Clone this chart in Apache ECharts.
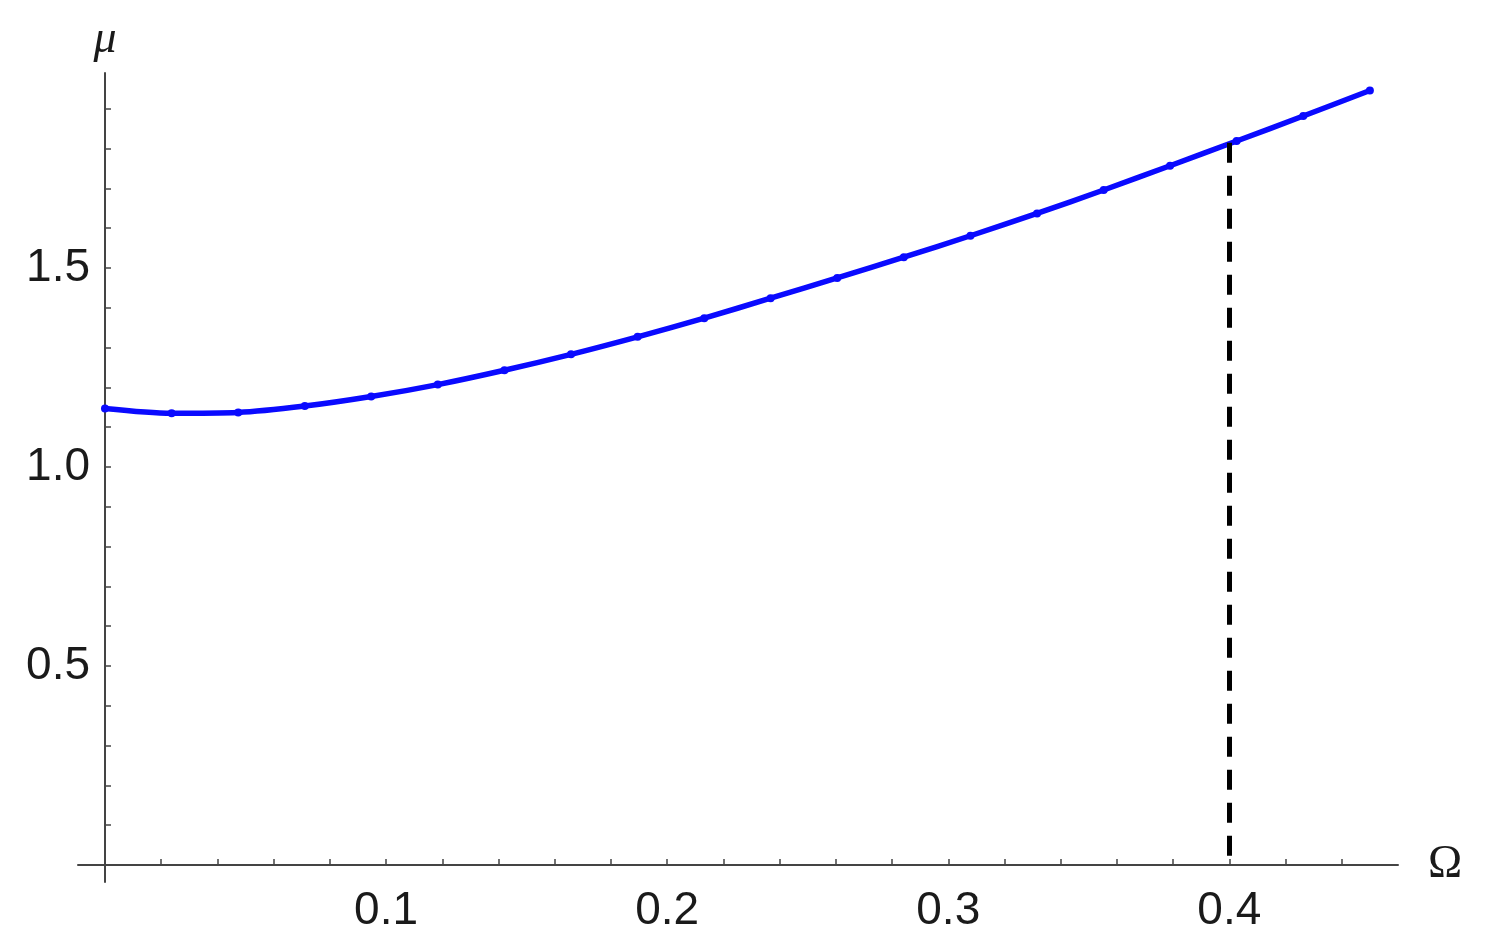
<!DOCTYPE html>
<html>
<head>
<meta charset="utf-8">
<script src="https://cdn.jsdelivr.net/npm/echarts@6/dist/echarts.min.js"></script>
<style>
  html, body { margin: 0; padding: 0; background: #fff; }
  #chartmain { width: 1490px; height: 952px; }
</style>
</head>
<body>
<div id="chartmain"></div>
<script>
// 数据
var omega = [0, 0.0237, 0.0474, 0.0711, 0.0947, 0.1184, 0.1421, 0.1658, 0.1895, 0.2132,
             0.2368, 0.2605, 0.2842, 0.3079, 0.3316, 0.3553, 0.3789, 0.4026, 0.4263, 0.45];
var mu = [1.147, 1.135, 1.137, 1.153, 1.177, 1.207, 1.243, 1.283, 1.327, 1.374,
          1.424, 1.475, 1.527, 1.581, 1.637, 1.696, 1.757, 1.819, 1.882, 1.946];
var xLabels = [0.1, 0.2, 0.3, 0.4];
var yLabels = [0.5, 1.0, 1.5];
var xTicks = [0.02, 0.04, 0.06, 0.08, 0.1, 0.12, 0.14, 0.16, 0.18, 0.2, 0.22,
              0.24, 0.26, 0.28, 0.3, 0.32, 0.34, 0.36, 0.38, 0.4, 0.42, 0.44];
var yTicks = [0.1, 0.2, 0.3, 0.4, 0.5, 0.6, 0.7, 0.8, 0.9, 1.0,
              1.1, 1.2, 1.3, 1.4, 1.5, 1.6, 1.7, 1.8, 1.9];
// 虚线位置
var dashOmega = 0.4;
var dashMu = 1.815;

var points = [];
for (var i = 0; i < omega.length; i++) {
    points.push([omega[i], mu[i]]);
}

var myChart = echarts.init(document.getElementById('chartmain'));

var axisColor = '#444';
var labelFont = { fontFamily: 'Liberation Sans', fontSize: 46, color: '#1a1a1a' };

var option = {
    animation: false,
    grid: { left: 78, right: 92, top: 73, bottom: 70, outerBoundsMode: 'none' },
    xAxis: {
        type: 'value',
        min: -0.0096,
        max: 0.46,
        name: 'Ω',
        nameLocation: 'end',
        nameGap: 30,
        nameTextStyle: { fontFamily: 'Liberation Serif', fontSize: 46, color: '#1a1a1a', verticalAlign: 'middle' },
        splitLine: { show: false },
        axisLine: { onZero: true, lineStyle: { color: axisColor, width: 2 } },
        axisTick: { inside: true, length: 6, customValues: xTicks, lineStyle: { color: axisColor, width: 1.5 } },
        axisLabel: {
            customValues: xLabels,
            margin: 6,
            fontFamily: labelFont.fontFamily, fontSize: labelFont.fontSize, color: labelFont.color,
            formatter: function (v) { return v.toFixed(1); }
        }
    },
    yAxis: {
        type: 'value',
        min: -0.043,
        max: 1.99,
        name: 'μ',
        nameLocation: 'end',
        nameGap: 10,
        nameTextStyle: { fontFamily: 'Liberation Serif', fontStyle: 'italic', fontSize: 46, color: '#1a1a1a', align: 'center' },
        splitLine: { show: false },
        axisLine: { onZero: true, lineStyle: { color: axisColor, width: 2 } },
        axisTick: { inside: true, length: 6, customValues: yTicks, lineStyle: { color: axisColor, width: 1.5 } },
        axisLabel: {
            customValues: yLabels,
            margin: -12,
            fontFamily: labelFont.fontFamily, fontSize: labelFont.fontSize, color: labelFont.color,
            formatter: function (v) { return v.toFixed(1); }
        }
    },
    series: [{
        type: 'line',
        data: points,
        smooth: 0.3,
        symbol: 'circle',
        symbolSize: 8,
        showAllSymbol: true,
        lineStyle: { color: '#0a0aff', width: 5.5 },
        itemStyle: { color: '#0a0aff' },
        emphasis: { disabled: true },
        z: 3,
        markLine: {
            silent: true,
            symbol: 'none',
            label: { show: false },
            lineStyle: { color: '#000', width: 5, type: [20, 13] },
            data: [[{ coord: [dashOmega, dashMu] }, { coord: [dashOmega, 0] }]]
        }
    }]
};

myChart.setOption(option);
window.addEventListener('resize', function () {
    myChart.resize();
});
</script>
</body>
</html>
